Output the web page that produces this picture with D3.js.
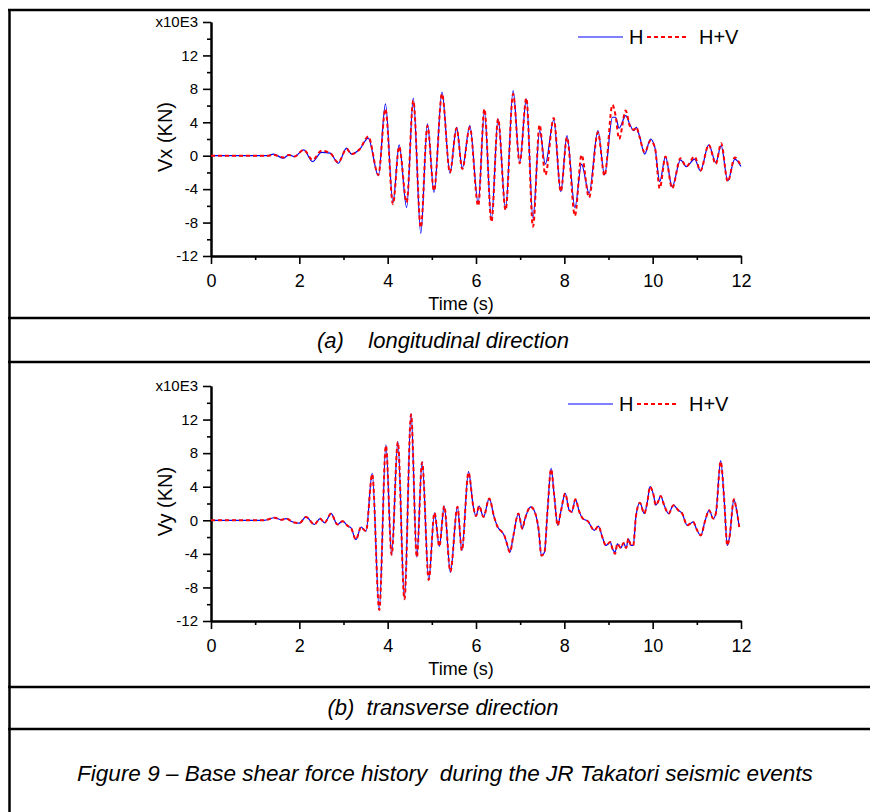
<!DOCTYPE html>
<html>
<head>
<meta charset="utf-8">
<script src="https://cdn.jsdelivr.net/npm/d3@7"></script>
<style>
  body { margin: 0; background: #fff; }
  svg { display: block; font-family: 'Liberation Sans', Arial, sans-serif; }
  .caption { font-style: italic; white-space: pre; }
</style>
</head>
<body>
<svg id="svg1" width="870" height="812"></svg>
<script>
const svg = d3.select('#svg1');

// axis ticks
const timeTicks = [0, 2, 4, 6, 8, 10, 12];
const timeMinor = [1, 3, 5, 7, 9, 11];
const forceTicks = [-12, -8, -4, 0, 4, 8, 12, 16];
const forceMinor = [-10, -6, -2, 2, 6, 10, 14];
const series = ['H', 'H+V'];

// (a) longitudinal, Vx in x10E3 kN
const vxTime = [0, 1.3, 1.41, 1.64, 1.76, 1.89, 2.1, 2.3, 2.5, 2.7, 2.88, 3.07, 3.18, 3.37, 3.56, 3.79,
  3.95, 4.12, 4.26, 4.43, 4.58, 4.75, 4.9, 5.05, 5.23, 5.41, 5.56, 5.69, 5.86, 6.05, 6.19, 6.35,
  6.5, 6.67, 6.84, 6.99, 7.14, 7.29, 7.44, 7.57, 7.76, 7.92, 8.06, 8.24, 8.39, 8.56, 8.76, 8.91,
  9.09, 9.16, 9.24, 9.39, 9.48, 9.57, 9.63, 9.7, 9.82, 9.95, 10.05, 10.16, 10.29, 10.44, 10.63, 10.76,
  10.95, 11.08, 11.27, 11.43, 11.55, 11.7, 11.86, 12.0];
const vxH = [0, 0, 0.2, -0.3, 0.1, -0.1, 0.7, -0.7, 0.4, 0.3, -0.9, 0.9, 0.2, 0.8, 2.1, -2.4,
  6.2, -5.6, 1.3, -6.2, 6.9, -9.3, 3.8, -4.4, 7.6, -2.1, 3.4, -1.5, 3.6, -5.7, 5.3, -7.6,
  4.4, -6.4, 7.8, -0.8, 6.8, -7.5, 3.0, -1.0, 4.3, -4.3, 2.4, -6.2, -1.0, -4.5, 3.0, -2.3,
  4.6, 4.6, 3.3, 4.8, 3.8, 3.0, 3.4, 2.4, 0.2, 2.0, 1.0, -3.1, -0.1, -3.7, -0.5, -1.3,
  -0.4, -1.8, 1.3, -0.8, 1.2, -3.0, -0.4, -1.3];
const vxHV = [0, 0, 0.1, -0.2, 0.1, -0.1, 0.7, -0.5, 0.6, 0.3, -0.8, 0.8, 0.2, 0.8, 2.3, -2.3,
  5.6, -5.8, 1.1, -5.6, 6.6, -8.6, 3.6, -4.2, 7.4, -2.0, 3.3, -1.6, 3.4, -6.0, 5.6, -7.9,
  4.4, -6.5, 7.4, -0.9, 6.9, -8.5, 3.7, -2.3, 4.5, -4.3, 2.2, -7.2, 0.1, -5.0, 2.8, -2.4,
  6.1, 4.8, 2.0, 5.4, 3.6, 3.1, 3.4, 2.3, 0.4, 1.8, 1.0, -3.9, -0.1, -3.9, -0.3, -1.3,
  -0.1, -1.8, 1.3, -1.0, 1.5, -3.1, -0.2, -1.3];

// (b) transverse, Vy in x10E3 kN
const vyTime = [0, 1.2, 1.44, 1.59, 1.7, 1.85, 2.0, 2.15, 2.34, 2.47, 2.57, 2.72, 2.86, 2.98, 3.1, 3.17,
  3.28, 3.4, 3.44, 3.51, 3.65, 3.81, 3.96, 4.09, 4.23, 4.38, 4.53, 4.66, 4.78, 4.93, 5.06, 5.17,
  5.28, 5.42, 5.58, 5.68, 5.83, 5.94, 6.0, 6.07, 6.17, 6.3, 6.41, 6.49, 6.59, 6.64, 6.69, 6.77,
  6.84, 6.96, 7.05, 7.1, 7.24, 7.33, 7.42, 7.48, 7.55, 7.62, 7.7, 7.77, 7.85, 7.92, 8.02, 8.11,
  8.17, 8.25, 8.34, 8.42, 8.53, 8.68, 8.77, 8.86, 8.94, 9.04, 9.09, 9.15, 9.2, 9.28, 9.34, 9.4,
  9.45, 9.51, 9.56, 9.62, 9.71, 9.81, 9.88, 9.94, 10.02, 10.07, 10.13, 10.18, 10.26, 10.36, 10.47, 10.58,
  10.67, 10.78, 10.92, 10.99, 11.09, 11.19, 11.28, 11.37, 11.43, 11.54, 11.62, 11.69, 11.74, 11.84, 11.89, 11.96];
const vyH = [0, 0, 0.3, 0.05, 0.2, -0.2, -0.35, 0.4, -0.5, 0.2, -0.3, 0.8, -0.5, -0.1, -0.7, -0.9,
  -2.3, -0.8, -1.0, -1.3, 5.6, -10.6, 9.0, -4.1, 9.4, -9.3, 12.7, -4.4, 7.0, -7.1, 0.9, -3.1,
  1.7, -6.2, 1.6, -3.6, 5.8, 1.6, 0.5, 1.7, 0.4, 2.6, 0.4, -0.8, -1.4, -1.8, -2.6, -3.8,
  -2.0, 0.8, -1.0, 0, 1.6, 1.0, -1.2, -4.2, -3.8, 1.2, 6.2, 3.0, -0.6, 1.0, 3.2, 1.2,
  1.0, 2.5, 1.0, 0.2, -0.1, -1.2, -0.7, -2.0, -3.0, -2.6, -3.4, -3.8, -2.8, -3.3, -2.7, -3.3,
  -2.2, -3.0, -3.0, 0.4, 2.1, 0.8, 2.2, 4.0, 3.0, 1.8, 2.3, 2.9, 1.8, 0.8, 1.8, 1.2,
  0.8, -0.6, -0.2, -1.0, -1.8, 0, 1.2, 0.2, 0.8, 7.1, 2.4, -3.0, -2.0, 2.5, 1.5, -0.8];
const vyHV = [0, 0, 0.3, 0.05, 0.2, -0.2, -0.35, 0.4, -0.5, 0.2, -0.3, 0.8, -0.5, -0.1, -0.7, -0.9,
  -2.3, -0.8, -1.0, -1.3, 5.5, -10.7, 8.9, -4.1, 9.3, -9.4, 12.6, -4.4, 6.9, -7.1, 0.9, -3.1,
  1.7, -6.1, 1.6, -3.6, 5.7, 1.6, 0.5, 1.7, 0.4, 2.6, 0.4, -0.8, -1.4, -1.8, -2.6, -3.8,
  -2.0, 0.8, -1.0, 0, 1.6, 1.0, -1.2, -4.2, -3.8, 1.2, 6.1, 3.0, -0.6, 1.0, 3.2, 1.2,
  1.0, 2.5, 1.0, 0.2, -0.1, -1.2, -0.7, -2.0, -3.0, -2.6, -3.4, -4.0, -2.8, -3.3, -2.7, -3.3,
  -2.2, -3.0, -3.0, 0.4, 2.1, 0.8, 2.2, 4.0, 3.0, 1.8, 2.3, 2.9, 1.8, 0.8, 1.8, 1.2,
  0.8, -0.6, -0.2, -1.0, -1.8, 0, 1.2, 0.2, 0.8, 7.0, 2.4, -3.0, -2.0, 2.5, 1.5, -0.8];

const panels = [
  { top: 22, bottom: 256, yLabel: 'Vx (KN)', time: vxTime, h: vxH, hv: vxHV,
    legendX: 578, legendY: 37, caption: '(a)    longitudinal direction', captionY: 348 },
  { top: 386, bottom: 621, yLabel: 'Vy (KN)', time: vyTime, h: vyH, hv: vyHV,
    legendX: 568, legendY: 404, caption: '(b)  transverse direction', captionY: 715 }
];

const xScale = d3.scaleLinear().domain([0, 12]).range([211, 741]);

const styleAxis = sel => {
  sel.select('.domain').attr('stroke', '#000').attr('stroke-width', 2);
  sel.selectAll('.tick line').attr('stroke', '#000').attr('stroke-width', 1.6);
};

const render = p => {
  const yScale = d3.scaleLinear().domain([-12, 16]).range([p.bottom, p.top]);
  const g = svg.append('g');

  // minor ticks first, majors on top
  g.append('g').attr('transform', `translate(0,${p.bottom})`)
    .call(d3.axisBottom(xScale).tickValues(timeMinor).tickSize(4).tickSizeOuter(0).tickFormat(''))
    .call(styleAxis);
  g.append('g').attr('transform', 'translate(211,0)')
    .call(d3.axisLeft(yScale).tickValues(forceMinor).tickSize(4).tickSizeOuter(0).tickFormat(''))
    .call(styleAxis);

  const xAxisG = g.append('g').attr('transform', `translate(0,${p.bottom})`)
    .call(d3.axisBottom(xScale).tickValues(timeTicks).tickSize(8).tickSizeOuter(0))
    .call(styleAxis);
  xAxisG.selectAll('.tick text')
    .attr('y', 31).attr('dy', 0)
    .attr('fill', '#000').attr('font-size', 18);

  const yAxisG = g.append('g').attr('transform', 'translate(211,0)')
    .call(d3.axisLeft(yScale).tickValues(forceTicks).tickSize(8).tickSizeOuter(0).tickPadding(5)
      .tickFormat(d => d === 16 ? 'x10E3' : String(d)))
    .call(styleAxis);
  yAxisG.selectAll('.tick text')
    .attr('fill', '#000').attr('font-size', 15);

  g.append('text')
    .attr('transform', `translate(172,${(p.top + p.bottom) / 2 - 2}) rotate(-90)`)
    .attr('text-anchor', 'middle')
    .attr('font-size', 20)
    .text(p.yLabel);

  g.append('text')
    .attr('x', 461)
    .attr('y', p.bottom + 54)
    .attr('text-anchor', 'middle')
    .attr('font-size', 18)
    .text('Time (s)');

  const lineGenerator = d3.line()
    .x((d, i) => xScale(p.time[i]))
    .y(d => yScale(d))
    .curve(d3.curveMonotoneX);

  g.append('path')
    .attr('d', lineGenerator(p.h))
    .attr('fill', 'none')
    .attr('stroke', '#0000ff')
    .attr('stroke-width', 1.2);

  g.append('path')
    .attr('d', lineGenerator(p.hv))
    .attr('fill', 'none')
    .attr('stroke', '#ff0000')
    .attr('stroke-width', 2)
    .attr('stroke-dasharray', '4,3');

  // legend
  const lg = g.append('g').attr('transform', `translate(${p.legendX},${p.legendY})`);
  lg.append('line').attr('x1', 0).attr('x2', 45).attr('y1', 0).attr('y2', 0)
    .attr('stroke', '#0000ff').attr('stroke-width', 1.2);
  lg.append('text').attr('x', 51).attr('y', 7).attr('font-size', 20).text(series[0]);
  lg.append('line').attr('x1', 69).attr('x2', 111).attr('y1', 0).attr('y2', 0)
    .attr('stroke', '#ff0000').attr('stroke-width', 2).attr('stroke-dasharray', '4,3');
  lg.append('text').attr('x', 121).attr('y', 7).attr('font-size', 20).text(series[1]);

  svg.append('text')
    .attr('class', 'caption')
    .attr('x', 443)
    .attr('y', p.captionY)
    .attr('text-anchor', 'middle')
    .attr('font-size', 22)
    .text(p.caption);
};

panels.forEach(render);

// table frame
[10, 318, 362, 687, 729].forEach(y => {
  svg.append('line')
    .attr('x1', 8).attr('x2', 870).attr('y1', y).attr('y2', y)
    .attr('stroke', '#000').attr('stroke-width', 2.5);
});
svg.append('line')
  .attr('x1', 9.5).attr('x2', 9.5).attr('y1', 9).attr('y2', 812)
  .attr('stroke', '#000').attr('stroke-width', 2.5);

svg.append('text')
  .attr('class', 'caption')
  .attr('x', 445)
  .attr('y', 781)
  .attr('text-anchor', 'middle')
  .attr('font-size', 22.5)
  .text('Figure 9 \u2013 Base shear force history  during the JR Takatori seismic events');
</script>
</body>
</html>
